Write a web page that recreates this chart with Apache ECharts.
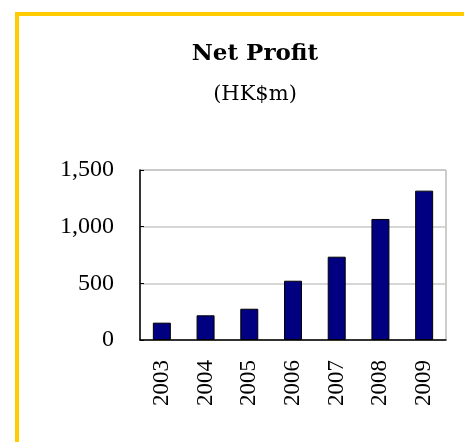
<!DOCTYPE html>
<html>
<head>
<meta charset="utf-8">
<script src="https://cdn.jsdelivr.net/npm/echarts@6/dist/echarts.min.js"></script>
<style>
body { margin: 0; background: #ffffff; }
#container { width: 464px; height: 442px; }
</style>
</head>
<body>
<div id="container"></div>
<script type="text/javascript">
    var years = ['2003', '2004', '2005', '2006', '2007', '2008', '2009'];
    var profit = [153, 218, 276, 523, 735, 1068, 1318];
    var yTicks = [0, 500, 1000, 1500];

    var myChart = echarts.init(document.getElementById('container'));
    var serif = '"Liberation Serif", "DejaVu Serif", serif';

    var option = {
        backgroundColor: '#ffffff',
        animation: false,
        graphic: [
            // yellow frame on top and left
            { type: 'rect', shape: { x: 15, y: 12, width: 449, height: 4 }, style: { fill: '#ffcc00' } },
            { type: 'rect', shape: { x: 15, y: 12, width: 4, height: 430 }, style: { fill: '#ffcc00' } }
        ],
        title: [
            {
                text: 'Net Profit',
                left: 250, top: 38, textAlign: 'center',
                textStyle: { fontFamily: '"DejaVu Serif", serif', fontWeight: 'bold', fontSize: 23, color: '#000' }
            },
            {
                text: '(HK$m)',
                left: 250, top: 79, textAlign: 'center',
                textStyle: { fontFamily: '"DejaVu Serif", serif', fontWeight: 'normal', fontSize: 21, color: '#000' }
            }
        ],
        grid: {
            left: 140, top: 170, width: 306, height: 170,
            show: true, borderColor: '#9a9a9a', borderWidth: 1
        },
        xAxis: {
            type: 'category',
            data: years,
            axisLine: { lineStyle: { color: '#000', width: 1.5 } },
            axisTick: { inside: true, length: 4, lineStyle: { color: '#000' } },
            axisLabel: { rotate: 90, margin: 20, fontFamily: serif, fontSize: 23, color: '#000' }
        },
        yAxis: {
            type: 'value',
            min: yTicks[0], max: yTicks[yTicks.length - 1], interval: 500,
            axisLine: { show: true, lineStyle: { color: '#000', width: 1.5 } },
            axisTick: { show: true, inside: true, length: 4, lineStyle: { color: '#000' } },
            splitLine: { lineStyle: { color: '#c8c8c8', width: 1.5 } },
            axisLabel: {
                margin: 26, fontFamily: serif, fontSize: 24, color: '#000',
                formatter: function (v) { return v.toLocaleString('en-US'); }
            }
        },
        series: [{
            type: 'bar',
            data: profit,
            barWidth: 18,
            itemStyle: { color: '#000080', borderColor: '#000', borderWidth: 1 }
        }]
    };

    myChart.setOption(option, true);
</script>
</body>
</html>
